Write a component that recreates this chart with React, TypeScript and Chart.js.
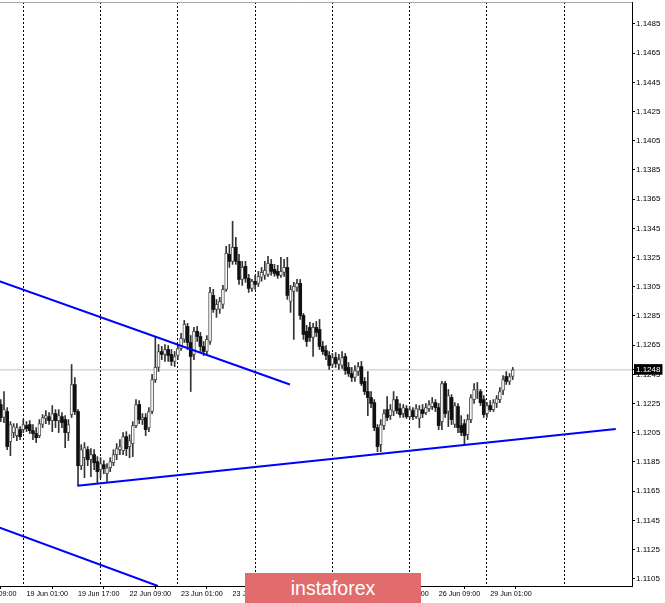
import { useEffect, useRef } from "react";
import { Chart, registerables } from "chart.js";

Chart.register(...registerables);

// H1 bars, index 0 = 19 Jun 00:00 (weekend hours skipped)
const FIRST_BAR = -7;

const opens = [
  1.12243, 1.12154, 1.12195, 1.11989, 1.12051, 1.12030, 1.12071, 1.12071, 1.12099, 1.12106,
  1.12064, 1.12044, 1.12030, 1.12106, 1.12147, 1.12160, 1.12133, 1.12181, 1.12133, 1.12160,
  1.12140, 1.12051, 1.12174, 1.12380, 1.12195, 1.11824, 1.11879, 1.11934, 1.11865, 1.11900,
  1.11852, 1.11797, 1.11831, 1.11769, 1.11810, 1.11844, 1.11900, 1.11934, 1.11927, 1.12023,
  1.11955, 1.11975, 1.12099, 1.12243, 1.12140, 1.12154, 1.12085, 1.12195, 1.12414, 1.12497,
  1.12606, 1.12586, 1.12620, 1.12586, 1.12538, 1.12579, 1.12627, 1.12689, 1.12778, 1.12668,
  1.12586, 1.12744, 1.12709, 1.12641, 1.12606, 1.12675, 1.12990, 1.12894, 1.12894, 1.12929,
  1.13032, 1.13272, 1.13224, 1.13320, 1.13224, 1.13100, 1.13189, 1.13107, 1.13038, 1.13087,
  1.13073, 1.13114, 1.13128, 1.13134, 1.13203, 1.13169, 1.13155, 1.13128, 1.13148, 1.13182,
  1.12949, 1.13018, 1.13045, 1.13073, 1.12853, 1.12744, 1.12771, 1.12702, 1.12771, 1.12757,
  1.12641, 1.12613, 1.12579, 1.12517, 1.12565, 1.12517, 1.12510, 1.12572, 1.12497, 1.12455,
  1.12428, 1.12469, 1.12503, 1.12401, 1.12332, 1.12291, 1.12256, 1.12085, 1.11968, 1.12099,
  1.12208, 1.12167, 1.12195, 1.12277, 1.12215, 1.12181, 1.12215, 1.12160, 1.12202, 1.12160,
  1.12147, 1.12208, 1.12188, 1.12215, 1.12229, 1.12256, 1.12222, 1.12126, 1.12387, 1.12195,
  1.12291, 1.12106, 1.12229, 1.12099, 1.12112, 1.12037, 1.12140, 1.12277, 1.12339, 1.12332,
  1.12277, 1.12181, 1.12236, 1.12208, 1.12250, 1.12277, 1.12339, 1.12435, 1.12401, 1.12435,
];
const highs = [
  1.12277, 1.12332, 1.12222, 1.12126, 1.12112, 1.12112, 1.12092, 1.12140, 1.12126, 1.12133,
  1.12106, 1.12085, 1.12140, 1.12174, 1.12202, 1.12188, 1.12236, 1.12208, 1.12208, 1.12188,
  1.12167, 1.12140, 1.12517, 1.12428, 1.12208, 1.11968, 1.11982, 1.11955, 1.11941, 1.11934,
  1.11886, 1.11879, 1.11859, 1.11838, 1.11879, 1.11934, 1.11975, 1.12003, 1.12051, 1.12057,
  1.12037, 1.12126, 1.12277, 1.12270, 1.12181, 1.12181, 1.12222, 1.12449, 1.12709, 1.12654,
  1.12641, 1.12654, 1.12647, 1.12620, 1.12606, 1.12654, 1.12730, 1.12819, 1.12799, 1.12716,
  1.12771, 1.12778, 1.12737, 1.12675, 1.12716, 1.13045, 1.13032, 1.12963, 1.12977, 1.13059,
  1.13327, 1.13340, 1.13498, 1.13388, 1.13272, 1.13224, 1.13224, 1.13134, 1.13100, 1.13128,
  1.13155, 1.13182, 1.13224, 1.13258, 1.13237, 1.13203, 1.13196, 1.13251, 1.13237, 1.13251,
  1.13059, 1.13080, 1.13100, 1.13100, 1.12867, 1.12785, 1.12806, 1.12799, 1.12812, 1.12826,
  1.12675, 1.12647, 1.12606, 1.12593, 1.12599, 1.12586, 1.12606, 1.12593, 1.12531, 1.12497,
  1.12510, 1.12531, 1.12538, 1.12428, 1.12469, 1.12332, 1.12277, 1.12106, 1.12140, 1.12208,
  1.12298, 1.12243, 1.12332, 1.12298, 1.12250, 1.12243, 1.12236, 1.12229, 1.12222, 1.12243,
  1.12236, 1.12243, 1.12250, 1.12270, 1.12291, 1.12277, 1.12250, 1.12401, 1.12401, 1.12346,
  1.12311, 1.12256, 1.12250, 1.12167, 1.12140, 1.12174, 1.12311, 1.12387, 1.12394, 1.12346,
  1.12304, 1.12256, 1.12270, 1.12277, 1.12304, 1.12359, 1.12442, 1.12469, 1.12455, 1.12497,
];
const lows = [
  1.12126, 1.12119, 1.11934, 1.11893, 1.12016, 1.11996, 1.12003, 1.12051, 1.12057, 1.12044,
  1.12003, 1.11982, 1.12016, 1.12085, 1.12112, 1.12106, 1.12057, 1.12085, 1.12051, 1.12085,
  1.11948, 1.11996, 1.12154, 1.12174, 1.11687, 1.11797, 1.11742, 1.11824, 1.11749, 1.11797,
  1.11701, 1.11742, 1.11769, 1.11708, 1.11783, 1.11824, 1.11865, 1.11900, 1.11900, 1.11893,
  1.11879, 1.11886, 1.12085, 1.12112, 1.12106, 1.12030, 1.12057, 1.12181, 1.12394, 1.12469,
  1.12551, 1.12538, 1.12538, 1.12510, 1.12503, 1.12551, 1.12613, 1.12668, 1.12620, 1.12332,
  1.12551, 1.12675, 1.12606, 1.12579, 1.12586, 1.12654, 1.12874, 1.12840, 1.12867, 1.12901,
  1.13018, 1.13182, 1.13203, 1.13203, 1.13066, 1.13059, 1.13080, 1.13011, 1.13018, 1.13032,
  1.13052, 1.13087, 1.13100, 1.13121, 1.13128, 1.13121, 1.13107, 1.13114, 1.13121, 1.12963,
  1.12874, 1.12689, 1.13018, 1.12826, 1.12689, 1.12641, 1.12675, 1.12572, 1.12709, 1.12620,
  1.12586, 1.12551, 1.12483, 1.12497, 1.12497, 1.12483, 1.12490, 1.12449, 1.12435, 1.12401,
  1.12401, 1.12442, 1.12373, 1.12311, 1.12167, 1.12222, 1.12064, 1.11920, 1.11920, 1.12071,
  1.12133, 1.12140, 1.12167, 1.12181, 1.12154, 1.12154, 1.12147, 1.12147, 1.12140, 1.12147,
  1.12085, 1.12154, 1.12174, 1.12195, 1.12208, 1.12195, 1.12071, 1.12071, 1.12154, 1.12092,
  1.12106, 1.12085, 1.12051, 1.12030, 1.11968, 1.12003, 1.12119, 1.12250, 1.12284, 1.12236,
  1.12154, 1.12154, 1.12195, 1.12195, 1.12222, 1.12256, 1.12311, 1.12380, 1.12380, 1.12414,
];
const closes = [
  1.12154, 1.12208, 1.11955, 1.12106, 1.12092, 1.12085, 1.12023, 1.12106, 1.12078, 1.12064,
  1.12044, 1.12016, 1.12112, 1.12154, 1.12167, 1.12133, 1.12181, 1.12133, 1.12167, 1.12119,
  1.12051, 1.12106, 1.12380, 1.12195, 1.11824, 1.11934, 1.11948, 1.11865, 1.11900, 1.11844,
  1.11783, 1.11838, 1.11804, 1.11810, 1.11852, 1.11900, 1.11941, 1.11955, 1.12023, 1.11941,
  1.11996, 1.12099, 1.12243, 1.12140, 1.12154, 1.12071, 1.12195, 1.12414, 1.12497, 1.12606,
  1.12586, 1.12620, 1.12579, 1.12538, 1.12572, 1.12627, 1.12696, 1.12792, 1.12668, 1.12572,
  1.12744, 1.12709, 1.12641, 1.12606, 1.12689, 1.13011, 1.12894, 1.12929, 1.12949, 1.13032,
  1.13279, 1.13224, 1.13320, 1.13224, 1.13100, 1.13182, 1.13107, 1.13038, 1.13087, 1.13066,
  1.13121, 1.13148, 1.13162, 1.13210, 1.13155, 1.13141, 1.13128, 1.13155, 1.13182, 1.12990,
  1.13032, 1.13052, 1.13073, 1.12853, 1.12723, 1.12675, 1.12702, 1.12771, 1.12737, 1.12641,
  1.12606, 1.12579, 1.12510, 1.12565, 1.12524, 1.12551, 1.12565, 1.12476, 1.12455, 1.12428,
  1.12476, 1.12503, 1.12387, 1.12332, 1.12291, 1.12250, 1.12085, 1.11955, 1.12106, 1.12181,
  1.12154, 1.12208, 1.12277, 1.12202, 1.12174, 1.12222, 1.12160, 1.12208, 1.12160, 1.12215,
  1.12208, 1.12181, 1.12222, 1.12243, 1.12256, 1.12222, 1.12099, 1.12387, 1.12181, 1.12304,
  1.12140, 1.12236, 1.12085, 1.12051, 1.12030, 1.12140, 1.12291, 1.12346, 1.12346, 1.12256,
  1.12174, 1.12236, 1.12208, 1.12256, 1.12284, 1.12332, 1.12414, 1.12401, 1.12435, 1.12480,
];

const timeTickIndex = [-15, 1, 17, 33, 49, 65, 81, 97, 113, 129, 145];
const timeTickLabels = [
  "18 Jun 09:00", "19 Jun 01:00", "19 Jun 17:00", "22 Jun 09:00", "23 Jun 01:00",
  "23 Jun 17:00", "24 Jun 09:00", "25 Jun 01:00", "25 Jun 17:00", "26 Jun 09:00", "29 Jun 01:00",
];
const dayStartIndex = [0, 24, 48, 72, 96, 120, 144, 168];
const priceTicks = [
  1.1105, 1.1125, 1.1145, 1.1165, 1.1185, 1.1205, 1.1225, 1.1245, 1.1265, 1.1285,
  1.1305, 1.1325, 1.1345, 1.1365, 1.1385, 1.1405, 1.1425, 1.1445, 1.1465, 1.1485,
];
const lastPrice = 1.1248;

const X_MIN = -15.31;
const X_MAX = 189.04;
const Y_MIN = 1.11;
const Y_MAX = 1.15;

const resistanceLine = [{ x: -15.31, y: 1.1315 }, { x: 82.8, y: 1.1238 }];
const supportLine = [{ x: 16.8, y: 1.11687 }, { x: 184.0, y: 1.12075 }];
const lowerChannelLine = [{ x: -15.31, y: 1.11464 }, { x: 41.8, y: 1.11 }];

const FONT = '"Liberation Sans", Arial, sans-serif';

export default function App() {
  const ref = useRef<HTMLCanvasElement>(null);

  useEffect(() => {
    const wickData = lows.map((l, k) => ({ x: FIRST_BAR + k, y: [l, highs[k]] }));
    const bodyData = opens.map((o, k) => ({ x: FIRST_BAR + k, y: [o, closes[k]] }));
    const isUp = opens.map((o, k) => closes[k] >= o);
    const blue = "#0000ff";

    const zeroPad = (s: any) => {
      s.paddingTop = 0;
      s.paddingBottom = 0;
      s.paddingLeft = 0;
      s.paddingRight = 0;
    };

    const chart = new Chart(ref.current as HTMLCanvasElement, {
      type: "line",
      data: {
        datasets: [
          { type: "line", data: resistanceLine, borderColor: blue, borderWidth: 2, pointRadius: 0, order: 0 },
          { type: "line", data: supportLine, borderColor: blue, borderWidth: 2, pointRadius: 0, order: 0 },
          { type: "line", data: lowerChannelLine, borderColor: blue, borderWidth: 2, pointRadius: 0, order: 0 },
          {
            type: "bar",
            data: bodyData as any,
            backgroundColor: isUp.map((u) => (u ? "#ffffff" : "#111111")),
            borderColor: "#555555",
            borderWidth: isUp.map((u) => (u ? 1 : 0)) as any,
            borderSkipped: false,
            barThickness: 3,
            grouped: false,
            order: 1,
          } as any,
          {
            type: "bar",
            data: wickData as any,
            backgroundColor: "#333333",
            borderWidth: 0,
            barThickness: 1,
            grouped: false,
            order: 2,
          } as any,
          {
            type: "line",
            data: [{ x: X_MIN, y: lastPrice }, { x: X_MAX, y: lastPrice }],
            borderColor: "#c0c0c0",
            borderWidth: 1,
            pointRadius: 0,
            order: 3,
          },
        ] as any,
      },
      options: {
        responsive: false,
        maintainAspectRatio: false,
        animation: false,
        devicePixelRatio: 1,
        events: [],
        layout: { padding: { top: 2, left: 0, right: 0, bottom: 0 } },
        plugins: { legend: { display: false }, tooltip: { enabled: false } },
        scales: {
          x: {
            type: "linear",
            position: "bottom",
            min: X_MIN,
            max: X_MAX,
            offset: false,
            afterBuildTicks: (s: any) => {
              s.ticks = timeTickIndex.map((v) => ({ value: v }));
            },
            afterFit: (s: any) => {
              s.height = 17;
              zeroPad(s);
            },
            ticks: {
              autoSkip: false,
              maxRotation: 0,
              align: "start",
              padding: 1,
              color: "#000",
              font: { family: FONT, size: 7.2 },
              callback: (v: any) => {
                const k = timeTickIndex.indexOf(Number(v));
                return k >= 0 ? timeTickLabels[k] : "";
              },
            },
            grid: { display: true, drawOnChartArea: false, drawTicks: true, tickLength: 3, color: "#000" },
            border: { display: true, color: "#000", width: 1 },
          },
          xDays: {
            type: "linear",
            position: "bottom",
            min: X_MIN,
            max: X_MAX,
            offset: false,
            afterBuildTicks: (s: any) => {
              s.ticks = dayStartIndex.map((v) => ({ value: v }));
            },
            afterFit: (s: any) => {
              s.height = 0;
              zeroPad(s);
            },
            ticks: { display: false },
            grid: { display: true, drawOnChartArea: true, drawTicks: false, color: "#000", lineWidth: 1 },
            border: { display: false, dash: [2, 2] },
          },
          xTop: {
            type: "linear",
            position: "top",
            min: X_MIN,
            max: X_MAX,
            afterFit: (s: any) => {
              s.height = 0;
              zeroPad(s);
            },
            ticks: { display: false },
            grid: { display: false, drawTicks: false },
            border: { display: true, color: "#a8a8a8", width: 1 },
          },
          y: {
            type: "linear",
            position: "right",
            min: Y_MIN,
            max: Y_MAX,
            afterBuildTicks: (s: any) => {
              s.ticks = [...priceTicks, lastPrice].map((v) => ({ value: v }));
            },
            afterFit: (s: any) => {
              s.width = 33;
              zeroPad(s);
            },
            ticks: {
              autoSkip: false,
              padding: 1,
              font: { family: FONT, size: 8 },
              color: (c: any) => (c.tick && c.tick.value === lastPrice ? "#ffffff" : "#000000"),
              showLabelBackdrop: (c: any) => !!(c.tick && c.tick.value === lastPrice),
              backdropColor: "#000000",
              backdropPadding: { top: 1, bottom: 0, left: 2, right: 2 },
              callback: (v: any) => Number(v).toFixed(4),
            } as any,
            grid: { display: true, drawOnChartArea: false, drawTicks: true, tickLength: 3, color: "#000" },
            border: { display: true, color: "#000", width: 1 },
          },
        } as any,
      },
    });
    return () => chart.destroy();
  }, []);

  return (
    <div
      style={{
        position: "fixed",
        left: 0,
        top: 0,
        width: 665,
        height: 603,
        overflow: "hidden",
        background: "#ffffff",
      }}
    >
      <canvas
        ref={ref}
        width={691}
        height={603}
        style={{ position: "absolute", left: -26, top: 0, width: 691, height: 603 }}
      />
      <div
        style={{
          position: "absolute",
          left: 245,
          top: 573,
          width: 176,
          height: 30,
          background: "#e26b6b",
          color: "#ffffff",
          fontFamily: FONT,
          fontSize: 19.5,
          display: "flex",
          alignItems: "center",
          justifyContent: "center",
        }}
      >
        instaforex
      </div>
    </div>
  );
}
